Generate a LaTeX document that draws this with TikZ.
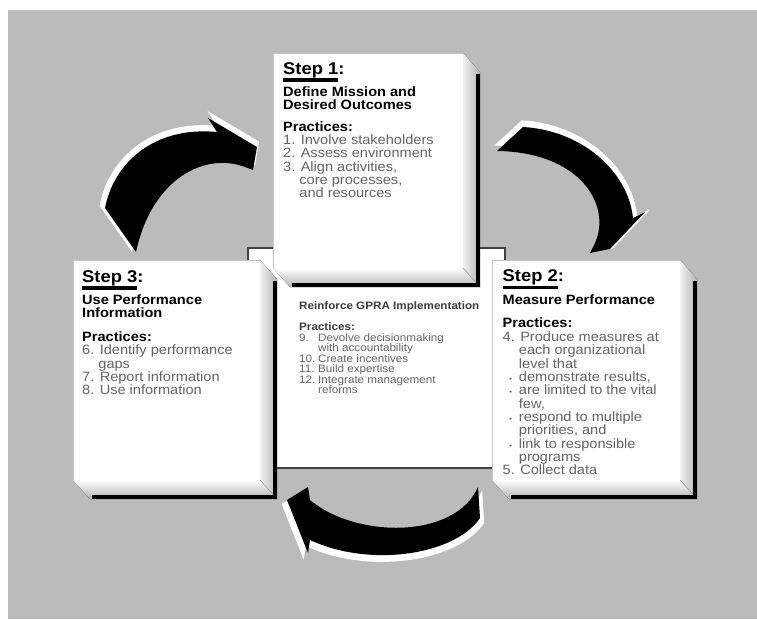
\documentclass[tikz,border=0pt]{standalone}
\usepackage{fontspec}
\setmainfont{Liberation Sans}[FakeStretch=1.08]
\definecolor{bggray}{RGB}{187,187,187}
\definecolor{itemgray}{RGB}{100,100,100}
\definecolor{midgray}{RGB}{60,60,60}
\setlength{\lineskiplimit}{-100pt}
\newcommand\stepfont{\fontsize{17}{13.3}\selectfont\bfseries}
\newcommand\headfont{\bfseries}
\newcommand\listfont{\color{itemgray}}
\newcommand\steptitle[1]{\setbox0\hbox{#1}\rlap{\rule[-7.5pt]{\wd0}{3.2pt}}\box0:}
\newcommand\hang{\phantom{4.\ }}
\newcommand\dotitem{\setbox0\hbox{4.\ }\hbox to \wd0{\hss\fontsize{7}{7}\selectfont•\hss}}
\newcommand\numbox[1]{\makebox[19pt][l]{#1}}
% raised edge to the right and below a box
\newcommand\bevel[1]{%
  \fill[left color=gray!10, right color=gray!60] (#1.north east) -- ([shift={(17,19)}]#1.north east)
    -- ([shift={(17,19)}]#1.south east) -- (#1.south east) -- cycle;
  \fill[top color=white, bottom color=gray!60] (#1.south west) -- (#1.south east)
    -- ([shift={(17,19)}]#1.south east) -- ([shift={(17,19)}]#1.south west) -- cycle;
  \draw[gray!70, line width=0.6pt] (#1.south east) -- ([shift={(17,19)}]#1.south east);
  \draw[line width=4pt] ([shift={(15,21)}]#1.north east) -- ([shift={(15,17)}]#1.south east)
    -- ([shift={(19,17)}]#1.south west);
}
\begin{document}
\begin{tikzpicture}[x=1pt,y=-1pt,
  stepbox/.style={draw=gray!45, line width=0.8pt, fill=white, outer sep=0pt, inner sep=0pt, anchor=north west},
  boxtext/.style={anchor=north west, inner sep=0pt, align=left, font=\fontsize{13.5}{13.3}\selectfont},
  midtext/.style={anchor=north west, inner sep=0pt, align=left, font=\fontsize{10.8}{10.4}\selectfont}]
\useasboundingbox (0,0) rectangle (757,619);
\fill[bggray] (8,10) rectangle (757,619);

% centre box
\node[stepbox, draw=black!75, line width=1.2pt, minimum width=257pt, minimum height=220pt] (mid) at (248,248) {};
\node[midtext] (tm) at ([shift={(51,53)}]mid.north west) {%
  {\bfseries\color{midgray}Reinforce GPRA Implementation}\\[10.6pt]
  {\bfseries\color{midgray}Practices:}\\[1.1pt]
  {\listfont\numbox{9.}Devolve decisionmaking}\\
  {\listfont\numbox{}with accountability}\\
  {\listfont\numbox{10.}Create incentives}\\
  {\listfont\numbox{11.}Build expertise}\\
  {\listfont\numbox{12.}Integrate management}\\
  {\listfont\numbox{}reforms}};

% step 1
\node[stepbox, minimum width=190pt, minimum height=215pt] (s1) at (273,53) {};
\bevel{s1}
\node[boxtext] (t1) at ([shift={(10,9)}]s1.north west) {%
  {\stepfont\steptitle{Step 1}}\\[8.7pt]
  {\headfont Define Mission and}\\
  {\headfont Desired Outcomes}\\[8.7pt]
  {\headfont Practices:}\\
  {\listfont 1. Involve stakeholders}\\
  {\listfont 2. Assess environment}\\
  {\listfont 3. Align activities,}\\
  {\listfont\hang core processes,}\\
  {\listfont\hang and resources}};

% step 3
\node[stepbox, minimum width=187pt, minimum height=220pt] (s3) at (73,260) {};
\bevel{s3}
\node[boxtext] (t3) at ([shift={(9,10)}]s3.north west) {%
  {\stepfont\steptitle{Step 3}}\\[9.2pt]
  {\headfont Use Performance}\\
  {\headfont Information}\\[10.4pt]
  {\headfont Practices:}\\
  {\listfont 6. Identify performance}\\
  {\listfont\hang gaps}\\
  {\listfont 7. Report information}\\
  {\listfont 8. Use information}};

% step 2
\node[stepbox, minimum width=188pt, minimum height=220pt] (s2) at (492,260) {};
\bevel{s2}
\node[boxtext] (t2) at ([shift={(10.5,9.6)}]s2.north west) {%
  {\stepfont\steptitle{Step 2}}\\[9.7pt]
  {\headfont Measure Performance}\\[9.7pt]
  {\headfont Practices:}\\[0.7pt]
  {\listfont 4. Produce measures at}\\
  {\listfont\hang each organizational}\\
  {\listfont\hang level that}\\
  {\listfont\dotitem demonstrate results,}\\
  {\listfont\dotitem are limited to the vital}\\
  {\listfont\hang few,}\\
  {\listfont\dotitem respond to multiple}\\
  {\listfont\hang priorities, and}\\
  {\listfont\dotitem link to responsible}\\
  {\listfont\hang programs}\\
  {\listfont 5. Collect data}};

% curved arrows, white rim first
\foreach \col/\sc in {white/1.05, black/1}{
  \fill[\col, scale around={\sc:(215,255)}] (105,208) .. controls (114,162) and (155,126) .. (217,132)
    -- (208,118) -- (257,147) -- (253,170) -- (245,167) .. controls (205,152) and (152,178) .. (136,252) -- cycle;
  \fill[\col, scale around={\sc:(550,260)}] (497,151) -- (523,127) .. controls (580,130) and (628,170) .. (633,218)
    -- (645,212) -- (610,249) -- (590,253) -- (595,243) .. controls (612,205) and (580,152) .. (497,151) -- cycle;
  \fill[\col, scale around={\sc:(395,420)}] (478,487) -- (480,518) .. controls (455,555) and (370,568) .. (310,540)
    -- (308,553) -- (287,500) -- (308,487) -- (310,500) .. controls (355,538) and (455,540) .. (478,487) -- cycle;
}
\end{tikzpicture}
\end{document}
